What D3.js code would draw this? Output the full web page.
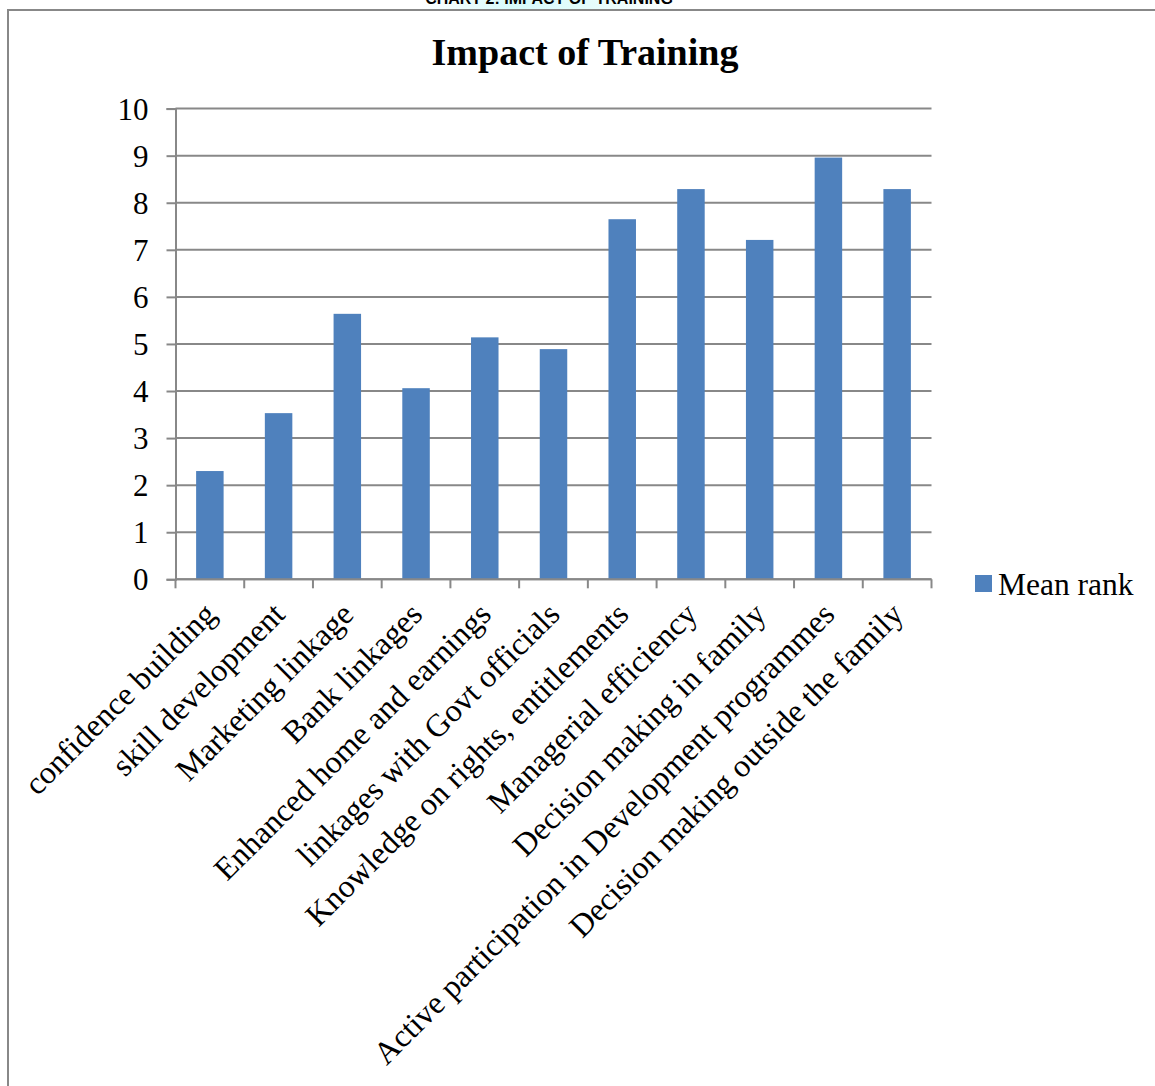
<!DOCTYPE html>
<html>
<head>
<meta charset="utf-8">
<script src="https://cdn.jsdelivr.net/npm/d3@7"></script>
<style>
  body { margin: 0; background: #fff; }
  svg { display: block; }
  text { font-family: "Times New Roman", "Liberation Serif", serif; fill: #000; }
</style>
</head>
<body>
<svg id="chart" width="1155" height="1086"></svg>
<script>
// chart data
var categories = ["confidence building", "skill development", "Marketing linkage", "Bank linkages",
  "Enhanced home and earnings", "linkages with Govt officials", "Knowledge on rights, entitlements",
  "Managerial efficiency", "Decision making in family", "Active participation in Development programmes",
  "Decision making outside the family"];
var meanRank = [2.30, 3.53, 5.64, 4.06, 5.14, 4.89, 7.65, 8.29, 7.21, 8.96, 8.29];
var yTicks = [0, 1, 2, 3, 4, 5, 6, 7, 8, 9, 10];
var seriesName = "Mean rank";

var svg = d3.select("#chart");
var barColor = "#4f81bd";
var lineColor = "#888888";

var plotLeft = 175.5, plotRight = 931.5, plotTop = 108.6, plotBottom = 579.3;

// page header, cut off at the top
var hdrGrad = svg.append("defs").append("linearGradient").attr("id", "hdrGrad");
hdrGrad.append("stop").attr("offset", "0%").style("stop-color", "#ffffff");
hdrGrad.append("stop").attr("offset", "35%").style("stop-color", "#d8fbfb");
hdrGrad.append("stop").attr("offset", "65%").style("stop-color", "#e4fcfc");
hdrGrad.append("stop").attr("offset", "100%").style("stop-color", "#ffffff");
svg.append("rect").attr("x", 420).attr("y", 0).attr("width", 260).attr("height", 9)
  .style("fill", "url(#hdrGrad)");
svg.append("text").text("CHART 2: IMPACT OF TRAINING")
  .attr("x", 549).attr("y", 4)
  .attr("text-anchor", "middle")
  .style("font-family", "Arial, 'Liberation Sans', sans-serif")
  .style("font-weight", "bold").style("font-size", "16px");

// outer frame of the chart
svg.append("path")
  .attr("d", "M8,1086 V10 H1155")
  .attr("fill", "none").attr("stroke", lineColor).attr("stroke-width", 2);

var x = d3.scaleBand().domain(categories).range([plotLeft, plotRight])
  .paddingInner(0.6).paddingOuter(0.3);
var y = d3.scaleLinear().domain([0, 10]).range([plotBottom, plotTop]);

// title
svg.append("text").text("Impact of Training")
  .attr("x", 585).attr("y", 65)
  .attr("text-anchor", "middle")
  .style("font-weight", "bold").style("font-size", "38px");

// gridlines
svg.append("g").selectAll("line")
  .data(yTicks)
  .enter().append("line")
  .attr("x1", plotLeft).attr("x2", plotRight)
  .attr("y1", function(d){ return y(d); })
  .attr("y2", function(d){ return y(d); })
  .attr("stroke", lineColor).attr("stroke-width", 2);

// y axis
var yAxis = svg.append("g")
  .attr("transform", "translate(" + plotLeft + ",0)")
  .call(d3.axisLeft(y).tickValues(yTicks).tickSize(9).tickPadding(18));
yAxis.select(".domain").attr("stroke", lineColor).attr("stroke-width", 2);
yAxis.selectAll(".tick line").attr("stroke", lineColor).attr("stroke-width", 2);
yAxis.selectAll(".tick text")
  .style("font-family", "'Times New Roman', 'Liberation Serif', serif")
  .style("font-size", "31px").attr("dy", "0.34em");

// bars
svg.append("g").selectAll("rect")
  .data(meanRank)
  .enter().append("rect")
  .attr("x", function(d, i){ return x(categories[i]); })
  .attr("width", x.bandwidth())
  .attr("y", function(d){ return y(d); })
  .attr("height", function(d){ return y(0) - y(d); })
  .attr("fill", barColor);

// x axis line and ticks at category boundaries
svg.append("line")
  .attr("x1", plotLeft).attr("x2", plotRight)
  .attr("y1", plotBottom).attr("y2", plotBottom)
  .attr("stroke", lineColor).attr("stroke-width", 2);
var step = x.step();
svg.append("g").selectAll("line")
  .data(d3.range(categories.length + 1))
  .enter().append("line")
  .attr("x1", function(i){ return plotLeft + i * step; })
  .attr("x2", function(i){ return plotLeft + i * step; })
  .attr("y1", plotBottom).attr("y2", plotBottom + 9)
  .attr("stroke", lineColor).attr("stroke-width", 2);

// rotated category labels
svg.append("g").selectAll("text")
  .data(categories)
  .enter().append("text")
  .text(function(d){ return d; })
  .attr("text-anchor", "end")
  .style("font-size", "32px")
  .attr("transform", function(d){
    return "translate(" + (x(d) + x.bandwidth() / 2 + 8) + "," + (plotBottom + 37) + ") rotate(-45)";
  });

// legend
var legend = svg.append("g").attr("transform", "translate(975,575)");
legend.append("rect").attr("width", 17).attr("height", 17).attr("fill", barColor);
legend.append("text").text(seriesName)
  .attr("x", 23).attr("y", 20)
  .style("font-size", "31.5px");
</script>
</body>
</html>
